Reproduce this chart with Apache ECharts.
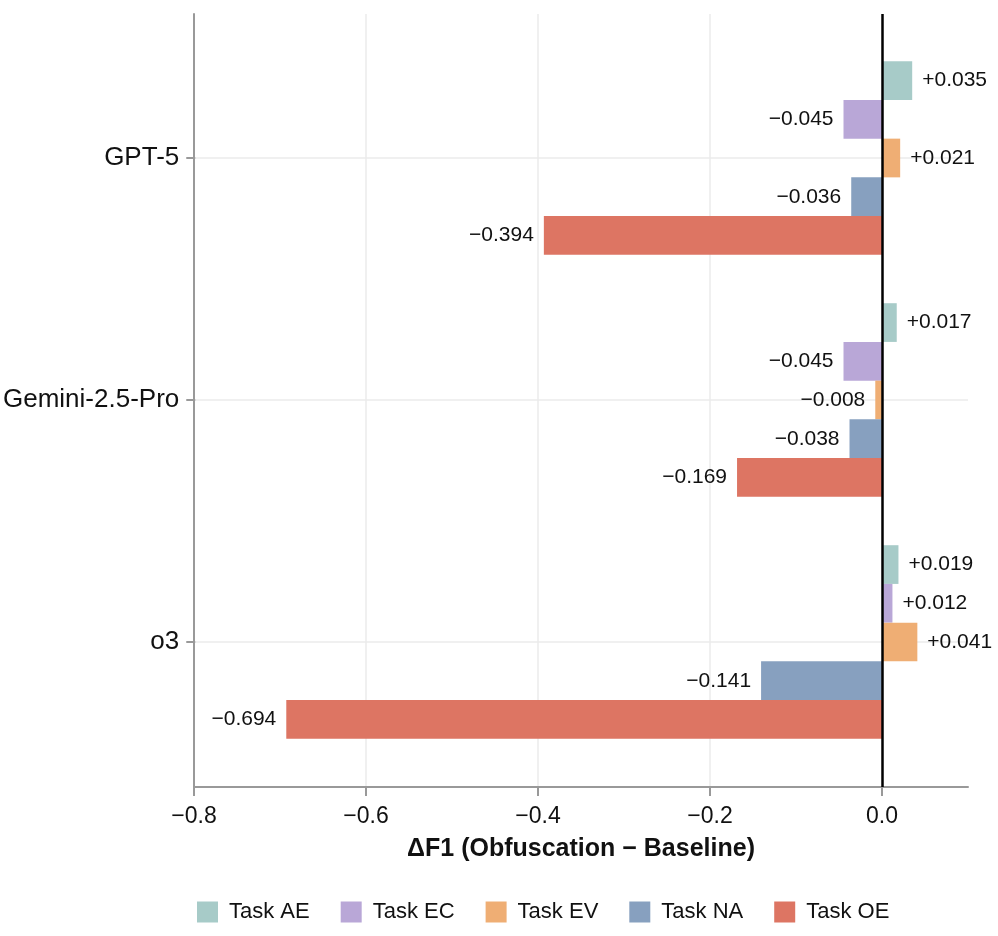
<!DOCTYPE html>
<html>
<head>
<meta charset="utf-8">
<script src="https://cdn.jsdelivr.net/npm/echarts@6/dist/echarts.min.js"></script>
<style>
html,body{margin:0;padding:0;background:#fff;}
#chart{width:998px;height:936px;}
</style>
</head>
<body>
<div id="chart"></div>
<script>
const models = ['GPT-5', 'Gemini-2.5-Pro', 'o3'];
const taskNames = ['Task AE', 'Task EC', 'Task EV', 'Task NA', 'Task OE'];
const taskAE = [0.035, 0.017, 0.019];
const taskEC = [-0.045, -0.045, 0.012];
const taskEV = [0.021, -0.008, 0.041];
const taskNA = [-0.036, -0.038, -0.141];
const taskOE = [-0.394, -0.169, -0.694];
const xTicks = [-0.8, -0.6, -0.4, -0.2, 0.0];
const xMin = -0.8, xMax = 0.1;
const colors = ['#a7cbc8', '#b9a7d7', '#efae74', '#87a0bf', '#dd7563'];

const FONT = '"Liberation Sans", Arial, sans-serif';
const fmtTick = v => (v < -1e-9 ? '\u2212' : '') + Math.abs(v).toFixed(1);
const fmtVal = v => (v < 0 ? '\u2212' : '+') + Math.abs(v).toFixed(3);

const seriesValues = [taskAE, taskEC, taskEV, taskNA, taskOE];
const barSeries = seriesValues.map((vals, i) => ({
  name: taskNames[i],
  type: 'bar',
  xAxisIndex: 1,
  yAxisIndex: 1,
  barGap: '0%',
  barCategoryGap: '20%',
  clip: false,
  itemStyle: { color: colors[i] },
  label: {
    show: true,
    distance: 10,
    fontFamily: FONT,
    fontSize: 21,
    color: '#111',
    formatter: p => fmtVal(p.value)
  },
  data: vals.map(v => ({ value: v, label: { position: v < 0 ? 'left' : 'right' } }))
}));

const option = {
  animation: false,
  backgroundColor: '#fff',
  legend: {
    data: taskNames,
    left: 192,
    top: 896,
    itemWidth: 21,
    itemHeight: 21,
    itemGap: 31,
    icon: 'rect',
    textStyle: { fontFamily: FONT, fontSize: 22, color: '#111', padding: [0, 0, 0, 6] }
  },
  grid: [
    { left: 194, right: 30, top: 14, bottom: 149 },
    { left: 194, right: 30, top: 158, bottom: 294 }
  ],
  xAxis: [
    {
      type: 'value', gridIndex: 0, min: xMin, max: xMax, interval: 0.2,
      name: '\u0394F1 (Obfuscation \u2212 Baseline)',
      nameLocation: 'middle', nameGap: 50,
      nameTextStyle: { fontFamily: FONT, fontSize: 25, fontWeight: 'bold', color: '#111' },
      axisLine: { show: true, onZero: false, lineStyle: { color: '#999', width: 2 } },
      axisTick: { show: true, length: 9, customValues: xTicks, lineStyle: { color: '#999', width: 2 } },
      axisLabel: { fontFamily: FONT, fontSize: 23, color: '#111', margin: 18, customValues: xTicks, formatter: fmtTick },
      splitLine: { show: true, showMaxLine: false, lineStyle: { color: '#ebebeb', width: 1.5 } }
    },
    {
      type: 'value', gridIndex: 1, min: xMin, max: xMax, show: false
    }
  ],
  yAxis: [
    {
      type: 'value', gridIndex: 0, min: 0, max: 1,
      axisLine: { show: true, onZero: false, lineStyle: { color: '#999', width: 2 } },
      axisTick: { show: false }, axisLabel: { show: false }, splitLine: { show: false }
    },
    {
      type: 'category', gridIndex: 1, data: models, inverse: true, boundaryGap: false,
      axisLine: { show: false, onZero: false },
      axisTick: { show: true, length: 9, lineStyle: { color: '#999', width: 2 } },
      axisLabel: { fontFamily: FONT, fontSize: 26, color: '#111', margin: 16 },
      splitLine: { show: true, lineStyle: { color: '#ebebeb', width: 1.5 } }
    }
  ],
  series: barSeries.concat([{
    name: 'zero',
    type: 'line',
    xAxisIndex: 0,
    yAxisIndex: 0,
    data: [],
    z: 10,
    markLine: {
      silent: true,
      symbol: ['none', 'none'],
      label: { show: false },
      lineStyle: { color: '#000', width: 2.5, type: 'solid' },
      data: [{ xAxis: 0 }]
    }
  }])
};

const chart = echarts.init(document.getElementById('chart'), null, { renderer: 'canvas' });
chart.setOption(option);
</script>
</body>
</html>
